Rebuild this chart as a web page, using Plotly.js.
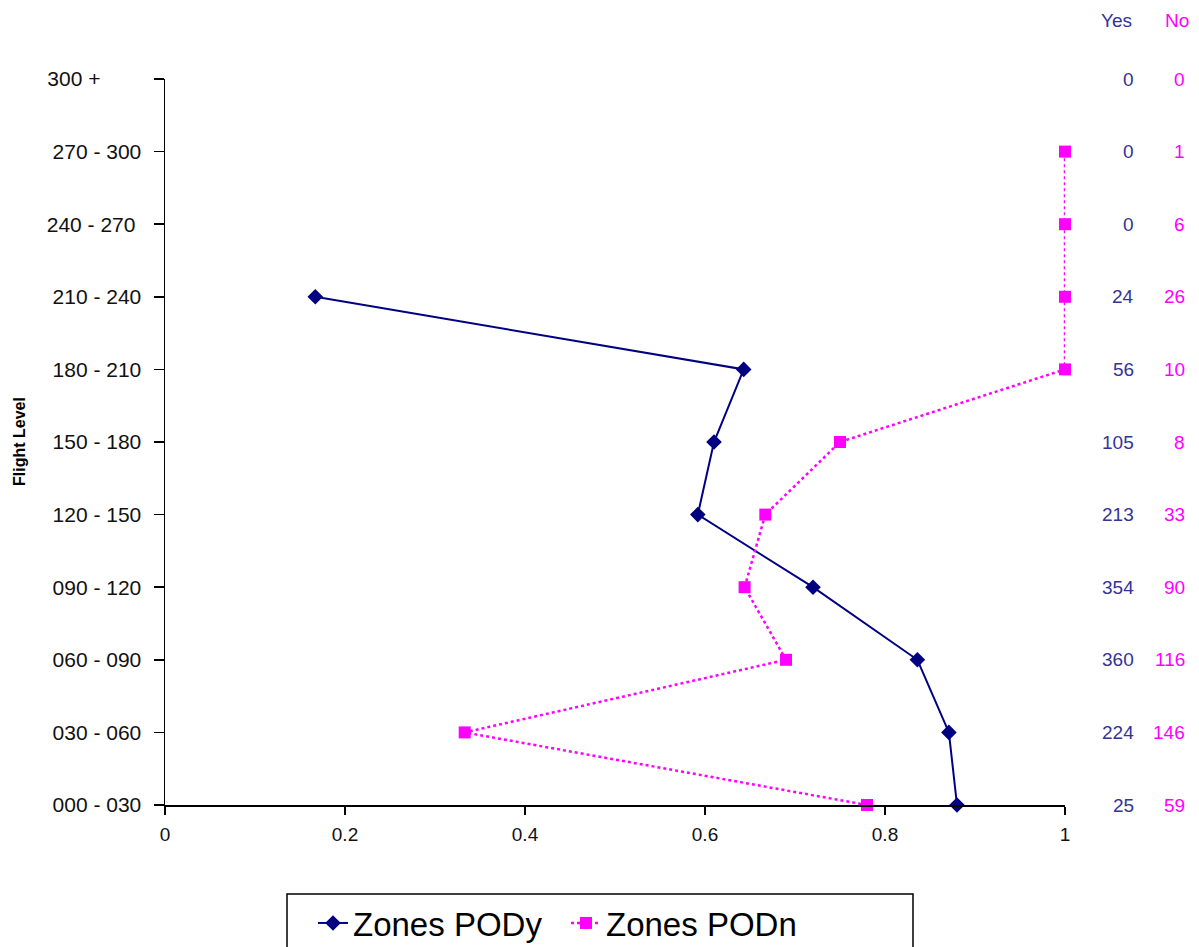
<!DOCTYPE html>
<html>
<head>
<meta charset="utf-8">
<script src="https://cdn.plot.ly/plotly-3.0.1.min.js"></script>
<style>html,body{margin:0;padding:0;background:#fff;}#chart{width:1199px;height:947px;}</style>
</head>
<body>
<div id="chart"></div>
<script>
const categories = ["000 - 030","030 - 060","060 - 090","090 - 120","120 - 150","150 - 180","180 - 210","210 - 240","240 - 270","270 - 300","300 +"];
const tickLabels = ["000 - 030","030 - 060","060 - 090","090 - 120","120 - 150","150 - 180","180 - 210","210 - 240","240 - 270\u00a0","270 - 300","300 +\u00a0\u00a0\u00a0\u00a0\u00a0\u00a0\u00a0"];
const podY = [0.88, 0.871, 0.836, 0.72, 0.592, 0.61, 0.643, 0.167, null, null, null];
const podN = [0.78, 0.333, 0.69, 0.644, 0.667, 0.75, 1, 1, 1, 1, null];
const yesCounts = [25, 224, 360, 354, 213, 105, 56, 24, 0, 0, 0];
const noCounts = [59, 146, 116, 90, 33, 8, 10, 26, 6, 1, 0];
const xTicks = [0, 0.2, 0.4, 0.6, 0.8, 1];

const yesColor = "#333399";
const noColor = "#FF00FF";
const FONT = "Liberation Sans, Arial, sans-serif";

// plot area in pixels: left 165, right 1065, top 79, bottom 805
const W = 1199, H = 947, L = 165, R = 1065, T = 79, B = 805;
const px = v => (v - L) / (R - L);
const py = v => (B - v) / (B - T);

const traces = [
  {
    x: podY, y: categories, type: "scatter", mode: "lines+markers", name: "Zones PODy",
    line: {color: "#000080", width: 2},
    marker: {symbol: "diamond", size: 12, color: "#000080"},
    cliponaxis: false, connectgaps: false
  },
  {
    x: podN, y: categories, type: "scatter", mode: "lines+markers", name: "Zones PODn",
    line: {color: "#FF00FF", width: 2.5, dash: "dot"},
    marker: {symbol: "square", size: 12, color: "#FF00FF"},
    cliponaxis: false, connectgaps: false
  }
];

const annotations = [];
annotations.push({text: "Yes", xref: "paper", yref: "paper", x: px(1134), y: py(20), xanchor: "right", yanchor: "middle", showarrow: false, font: {family: FONT, size: 19, color: yesColor}});
annotations.push({text: "No", xref: "paper", yref: "paper", x: px(1191), y: py(20), xanchor: "right", yanchor: "middle", showarrow: false, font: {family: FONT, size: 19, color: noColor}});
categories.forEach((c, i) => {
  annotations.push({text: String(yesCounts[i]), xref: "paper", yref: "y", x: px(1136), y: c, xanchor: "right", yanchor: "middle", showarrow: false, font: {family: FONT, size: 19, color: yesColor}});
  annotations.push({text: String(noCounts[i]), xref: "paper", yref: "y", x: px(1187), y: c, xanchor: "right", yanchor: "middle", showarrow: false, font: {family: FONT, size: 19, color: noColor}});
});
annotations.push({text: "<b>Flight Level</b>", xref: "paper", yref: "paper", x: px(19), y: py(442), xanchor: "center", yanchor: "middle", textangle: -90, showarrow: false, font: {family: FONT, size: 16, color: "#000"}});

const layout = {
  width: W, height: H,
  margin: {l: L, r: W - R, t: T, b: H - B, autoexpand: false},
  paper_bgcolor: "#fff", plot_bgcolor: "#fff",
  font: {family: FONT, size: 16, color: "#000"},
  showlegend: true,
  legend: {
    orientation: "h", x: px(313), y: py(895), xanchor: "left", yanchor: "top",
    borderwidth: 0, bgcolor: "rgba(0,0,0,0)",
    font: {family: FONT, size: 33, color: "#000"},
    entrywidth: 208, itemwidth: 30
  },
  shapes: [
    {type: "rect", xref: "paper", yref: "paper", x0: px(287), x1: px(913), y0: py(894), y1: py(990),
     line: {color: "#000", width: 1.5}, fillcolor: "rgba(0,0,0,0)", layer: "below"}
  ],
  xaxis: {
    range: [0, 1], tickvals: xTicks, ticktext: xTicks.map(v => String(v)),
    showgrid: false, zeroline: false, showline: true, linecolor: "#000", linewidth: 1.5,
    ticks: "outside", ticklen: 8, tickcolor: "#000", tickwidth: 1.5,
    tickfont: {family: FONT, size: 19, color: "#111"}, ticklabelstandoff: 4, fixedrange: true
  },
  yaxis: {
    type: "category", categoryorder: "array", categoryarray: categories,
    range: [0, 10], tickvals: categories, ticktext: tickLabels,
    showgrid: false, zeroline: false, showline: true, linecolor: "#000", linewidth: 1.5,
    ticks: "outside", ticklen: 10, tickcolor: "#000", tickwidth: 1.5,
    tickfont: {family: FONT, size: 21, color: "#111"}, ticklabelstandoff: 8,
    fixedrange: true
  },
  annotations: annotations
};

Plotly.newPlot("chart", traces, layout, {displayModeBar: false, staticPlot: true});
</script>
</body>
</html>
